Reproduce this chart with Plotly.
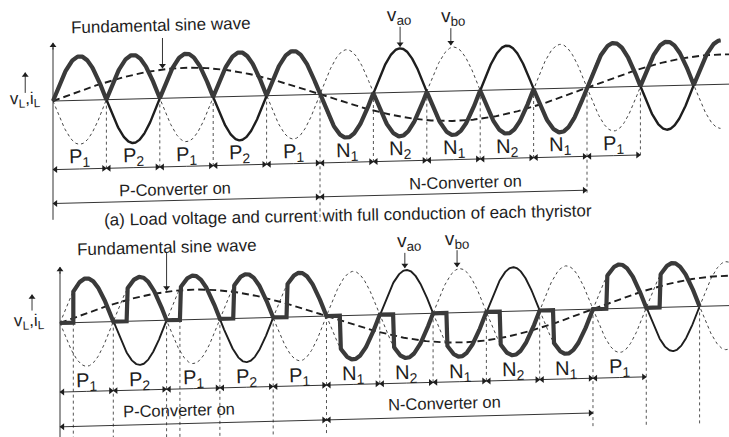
import numpy as np
import plotly.graph_objects as go

# ---------------- data ----------------
SEGMENT_LABELS = ["P<sub>1</sub>", "P<sub>2</sub>", "P<sub>1</sub>", "P<sub>2</sub>", "P<sub>1</sub>",
                  "N<sub>1</sub>", "N<sub>2</sub>", "N<sub>1</sub>", "N<sub>2</sub>", "N<sub>1</sub>",
                  "P<sub>1</sub>"]
HALF_CYCLE_POLARITY = [1, 1, 1, 1, 1, -1, -1, -1, -1, -1, 1, 1, 1]
CONVERTER_NAMES = ["P-Converter on", "N-Converter on"]
CONVERTER_SPANS = [[0, 5], [5, 10]]
SOURCE_NAMES = ["v<sub>ao</sub>", "v<sub>bo</sub>"]
FIRING_DELAY = [0.0, 0.25]           # firing delay in half-cycles, panel (a) / panel (b)
OUTPUT_END = [12.5, 12.0]
SOURCE_END = [12.5, 12.55]
FUNDAMENTAL_AMPLITUDE = 0.68
FUNDAMENTAL_HALF_PERIOD = 5
FUNDAMENTAL_POINTER = [2.05, 2.0]
CAPTION_A = "(a) Load voltage and current with full conduction of each thyristor"
AXIS_LABEL = "v<sub>L</sub>,i<sub>L</sub>"
FUND_LABEL = "Fundamental sine wave"

# ---------------- style / layout ----------------
INK = "#1e1e1e"
FONT = "Liberation Sans, Arial, sans-serif"

PANELS = [
    dict(x="x", y="y", xr=[-0.9925, 12.659], yr=[-7.636, 2.2955], tilt=0.0303, pxt=53.4, pxv=44.0,
         label_v=-1.31, row_v=-1.56, conv_v=-2.07, long_v=-2.33, conv_t=[2.28, 7.73],
         fund_txt=[2.02, 1.65], fund_tail=1.37,
         src_txt=[[6.48, 1.725], [7.49, 1.69]], src_arrow=[[6.5, 1.49, 1.04], [7.45, 1.43, 1.045]],
         axis_lbl=[-0.52, 0.04], axis_arrow=[-0.52, 0.20, 0.66], axis_span=[1.32, -2.70],
         short_guides=[1, 2, 3, 4, 6, 7, 8, 9, 11], long_guides=[[5, -2.9], [10, -2.4]],
         out_w=4.2, vao_w=2.4),
    dict(x="x2", y="y2", xr=[-1.1257, 12.552], yr=[-2.591, 7.341], tilt=0.0315, pxt=53.3, pxv=44.0,
         label_v=-1.35, row_v=-1.57, conv_v=-2.05, long_v=-2.36, conv_t=[2.23, 7.22],
         fund_txt=[2.0, 1.66], fund_tail=1.53,
         src_txt=[[6.55, 1.645], [7.45, 1.65]], src_arrow=[[6.47, 1.39, 1.05], [7.45, 1.42, 1.04]],
         axis_lbl=[-0.58, 0.03], axis_arrow=[-0.525, 0.30, 0.66], axis_span=[1.27, -2.65],
         short_guides=[6, 7, 8, 9],
         long_guides=[[1, -2.7], [2, -2.7], [3, -2.7], [4, -2.7], [5, -2.7], [10, -2.7],
                      [11, -2.7], [12, -2.7], [0.25, -2.7], [2.25, -2.7]],
         out_w=4.2, vao_w=1.9),
]

fig = go.Figure()
annotations = []


def tilt(p, t, v):
    t = np.asarray(t, dtype=float)
    return np.asarray(v, dtype=float) + p["tilt"] * t


def line(p, t, v, width, dash="solid", color=INK):
    fig.add_trace(go.Scatter(x=t, y=tilt(p, t, v), mode="lines", xaxis=p["x"], yaxis=p["y"],
                             line=dict(color=color, width=width, dash=dash),
                             hoverinfo="skip", showlegend=False, connectgaps=False))


def text(p, t, v, s, size, angle=-1.4):
    annotations.append(dict(x=t, y=float(tilt(p, t, v)), xref=p["x"], yref=p["y"], text=s,
                            showarrow=False, font=dict(family=FONT, size=size, color=INK),
                            textangle=angle, xanchor="center", yanchor="middle"))


class Arrows:
    """collects arrow shafts and heads for one panel; drawn as scatter traces"""

    def __init__(self, p):
        self.p = p
        self.lx, self.ly = [], []
        self.hx, self.hy, self.hs = [], [], []

    def add(self, t0, v0, t1, v1, both=False, head_px=2.6):
        p = self.p
        self.lx += [t0, t1, None]
        self.ly += [float(tilt(p, t0, v0)), float(tilt(p, t1, v1)), None]
        ends = [(t1, v1, t0, v0)] + ([(t0, v0, t1, v1)] if both else [])
        for (tx, tv, fx, fv) in ends:
            if abs(tx - fx) * p["pxt"] > abs(tv - fv) * p["pxv"]:
                sym = "triangle-right" if tx > fx else "triangle-left"
                sh = head_px / p["pxt"] * (1 if tx > fx else -1)
                cx, cv = tx - sh, tv
            else:
                sym = "triangle-up" if tv > fv else "triangle-down"
                sh = head_px / p["pxv"] * (1 if tv > fv else -1)
                cx, cv = tx, tv - sh
            self.hx.append(cx)
            self.hy.append(float(tilt(p, cx, cv)))
            self.hs.append(sym)

    def draw(self):
        p = self.p
        fig.add_trace(go.Scatter(x=self.lx, y=self.ly, mode="lines", xaxis=p["x"], yaxis=p["y"],
                                 line=dict(color=INK, width=0.9), hoverinfo="skip", showlegend=False))
        fig.add_trace(go.Scatter(x=self.hx, y=self.hy, mode="markers", xaxis=p["x"], yaxis=p["y"],
                                 marker=dict(symbol=self.hs, size=6, color=INK, line=dict(width=0)),
                                 hoverinfo="skip", showlegend=False))


def output_curve(alpha, end, n=80):
    ts, vs = [], []
    k = 0
    while k < end:
        hi = min(k + 1, end)
        pol = HALF_CYCLE_POLARITY[k]
        if alpha > 0:
            ts += [k, k + alpha]
            vs += [0.0, 0.0]
        seg = np.linspace(k + alpha, hi, n)
        ts += list(seg)
        vs += list(pol * np.abs(np.sin(np.pi * seg)))
        k += 1
    return np.array(ts), np.array(vs)


for i, p in enumerate(PANELS):
    alpha = FIRING_DELAY[i]
    x_right = p["xr"][1]
    arr = Arrows(p)

    # baseline (horizontal axis)
    line(p, np.array([0, x_right]), np.array([0, 0]), 1.0, color="#333333")

    # vertical axis with arrow
    line(p, np.array([0, 0]), np.array([p["axis_span"][0] - 0.1, p["axis_span"][1]]), 1.0, color="#333333")
    arr.add(0, p["axis_span"][0] - 0.15, 0, p["axis_span"][0])

    # guide lines
    gx, gy = [], []
    for g in p["short_guides"]:
        gx += [g, g, None]
        gy += [g * p["tilt"], p["row_v"] + g * p["tilt"], None]
    for g, lo in p["long_guides"]:
        gx += [g, g, None]
        gy += [g * p["tilt"], lo + g * p["tilt"], None]
    fig.add_trace(go.Scatter(x=gx, y=gy, mode="lines", xaxis=p["x"], yaxis=p["y"],
                             line=dict(color="#555555", width=1, dash="3px,3px"),
                             hoverinfo="skip", showlegend=False))

    # source voltages
    t = np.linspace(0, SOURCE_END[i], 1400)
    vao = np.sin(np.pi * t)
    vbo = -np.sin(np.pi * t)
    k = np.clip(np.floor(t).astype(int), 0, len(HALF_CYCLE_POLARITY) - 1)
    frac = t - np.floor(t)
    pol = np.array(HALF_CYCLE_POLARITY)[k]
    vao_conducts = pol * np.where(k % 2 == 0, 1, -1) > 0
    prefire = vao_conducts & (frac < alpha) & (t <= OUTPUT_END[i])
    solid = (t <= OUTPUT_END[i] + 1e-9) & ~prefire
    dashed = ~solid
    dashed = dashed | np.roll(dashed, 1) | np.roll(dashed, -1)

    line(p, t, vbo, 1.0, dash="3px,3px", color="#444444")
    line(p, t, np.where(dashed, vao, np.nan), 1.0, dash="3px,3px", color="#444444")

    # fundamental
    tf = np.linspace(0, x_right, 600)
    fund = FUNDAMENTAL_AMPLITUDE * np.sin(np.pi * tf / FUNDAMENTAL_HALF_PERIOD)
    line(p, tf, fund, 1.9, dash="7px,4px", color=INK)

    # vao solid
    line(p, t, np.where(solid, vao, np.nan), p["vao_w"], color=INK)

    # load output
    to, vo = output_curve(alpha, OUTPUT_END[i])
    line(p, to, vo, p["out_w"], color="#3a3a3a")

    # segment labels and arrows
    for s, lab in enumerate(SEGMENT_LABELS):
        text(p, s + 0.5, p["label_v"], lab, 20)
        arr.add(s + 0.5, p["row_v"], s + 1, p["row_v"])
        arr.add(s + 0.5, p["row_v"], s, p["row_v"])

    # converter spans
    for c, name in enumerate(CONVERTER_NAMES):
        a, b = CONVERTER_SPANS[c]
        text(p, p["conv_t"][c], p["conv_v"], name, 16.5)
        arr.add(a, p["long_v"], b, p["long_v"], both=True)

    # fundamental label
    text(p, p["fund_txt"][0], p["fund_txt"][1], FUND_LABEL, 17)
    ft = FUNDAMENTAL_POINTER[i]
    fv = FUNDAMENTAL_AMPLITUDE * np.sin(np.pi * ft / FUNDAMENTAL_HALF_PERIOD)
    arr.add(ft, p["fund_tail"], ft, fv + 0.03)

    # source labels
    for j, nm in enumerate(SOURCE_NAMES):
        text(p, p["src_txt"][j][0], p["src_txt"][j][1], nm, 19)
        sa = p["src_arrow"][j]
        arr.add(sa[0], sa[1], sa[0], sa[2])

    # axis label
    text(p, p["axis_lbl"][0], p["axis_lbl"][1], AXIS_LABEL, 17)
    aa = p["axis_arrow"]
    arr.add(aa[0], aa[1], aa[0], aa[2])

    arr.draw()

# caption of panel (a)
text(PANELS[0], 5.52, -2.78, CAPTION_A, 17, angle=-1.1)

ax_common = dict(visible=False, showgrid=False, zeroline=False, fixedrange=True)
fig.update_layout(
    width=729, height=437, margin=dict(l=0, r=0, t=0, b=0),
    paper_bgcolor="white", plot_bgcolor="white",
    xaxis=dict(domain=[0, 1], range=PANELS[0]["xr"], anchor="y", **ax_common),
    yaxis=dict(domain=[0, 1], range=PANELS[0]["yr"], anchor="x", **ax_common),
    xaxis2=dict(domain=[0, 1], range=PANELS[1]["xr"], anchor="y2", overlaying="x", **ax_common),
    yaxis2=dict(domain=[0, 1], range=PANELS[1]["yr"], anchor="x2", overlaying="y", **ax_common),
    annotations=annotations,
    showlegend=False,
)

fig.write_html("out.html")
